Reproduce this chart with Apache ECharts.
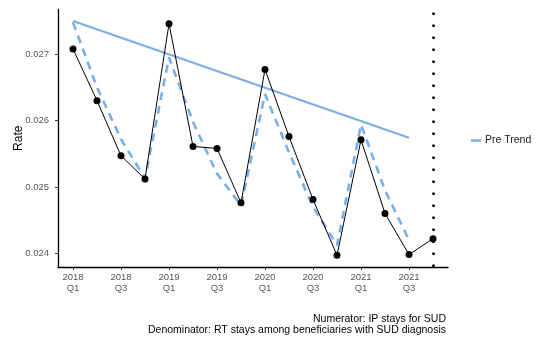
<!DOCTYPE html>
<html>
<head>
<meta charset="utf-8">
<script src="https://cdn.jsdelivr.net/npm/echarts@6/dist/echarts.min.js"></script>
<style>
  html, body { margin: 0; padding: 0; background: #ffffff; }
  #chart { width: 538px; height: 341px; }
</style>
</head>
<body>
<div id="chart"></div>
<script>
// Quarterly periods on the x axis
const quarters = [
  '2018 Q1', '2018 Q2', '2018 Q3', '2018 Q4',
  '2019 Q1', '2019 Q2', '2019 Q3', '2019 Q4',
  '2020 Q1', '2020 Q2', '2020 Q3', '2020 Q4',
  '2021 Q1', '2021 Q2', '2021 Q3', '2021 Q4'
];

// Observed rate per quarter
const observedRate = [
  0.02708, 0.02630, 0.02547, 0.02512,
  0.02746, 0.02561, 0.02558, 0.02476,
  0.02677, 0.02576, 0.02481, 0.02397,
  0.02571, 0.02460, 0.02398, 0.02422
];

// Seasonal pre-period fit (2018 Q1 - 2021 Q3)
const seasonalFit = [
  0.02748, 0.02650, 0.02572, 0.02513,
  0.02695, 0.02598, 0.02520, 0.02472,
  0.02640, 0.02552, 0.02470, 0.02412,
  0.02594, 0.02495, 0.02420
];

// Pre-period linear trend: start and end quarters and values
const preTrendQuarterIdx = [0, 14];
const preTrendValues = [0.02750, 0.02574];

// Intervention marker quarter
const interventionIdx = [15];

// Axis ticks
const yTicks = [0.024, 0.025, 0.026, 0.027];
const xTickIdx = [0, 2, 4, 6, 8, 10, 12, 14];

const caption = [
  'Numerator: IP stays for SUD',
  'Denominator: RT stays among beneficiaries with SUD diagnosis'
];

const FONT = 'Liberation Sans, Arial, sans-serif';
const BLUE = '#7aaee6';

const pairs = (vals, idx) => vals.map((v, i) => [idx ? idx[i] : i, v]);

const chart = echarts.init(document.getElementById('chart'), null, { renderer: 'canvas' });

chart.setOption({
  animation: false,
  backgroundColor: '#ffffff',
  grid: {
    left: 58, right: 90, top: 9.5, bottom: 74,
    containLabel: false,
    outerBoundsMode: 'none'
  },
  legend: {
    data: [{ name: 'Pre Trend', icon: 'rect' }],
    left: 471,
    top: 135,
    padding: 0,
    itemWidth: 10,
    itemHeight: 2.5,
    itemGap: 4,
    textStyle: { fontFamily: FONT, fontSize: 10.5, color: '#222222', padding: [0, 0, 0, -1] }
  },
  xAxis: {
    type: 'value',
    min: -0.625,
    max: 15.625,
    splitLine: { show: false },
    axisLine: { show: true, onZero: false, lineStyle: { color: '#000000', width: 1.3 } },
    axisTick: {
      show: true, length: 3, customValues: xTickIdx,
      lineStyle: { color: '#333333', width: 1 }
    },
    axisLabel: {
      customValues: xTickIdx,
      formatter: v => quarters[Math.round(v)].replace(' ', '\n'),
      fontFamily: FONT, fontSize: 9.5, color: '#555555',
      lineHeight: 11, margin: 5, align: 'center'
    }
  },
  yAxis: {
    type: 'value',
    min: 0.023793,
    max: 0.027674,
    name: 'Rate',
    nameLocation: 'middle',
    nameRotate: 90,
    nameGap: 33,
    nameMoveOverlap: false,
    nameTextStyle: { fontFamily: FONT, fontSize: 12, color: '#000000' },
    splitLine: { show: false },
    axisLine: { show: true, onZero: false, lineStyle: { color: '#000000', width: 1.3 } },
    axisTick: {
      show: true, length: 3, customValues: yTicks,
      lineStyle: { color: '#333333', width: 1 }
    },
    axisLabel: {
      customValues: yTicks,
      formatter: v => v.toFixed(3),
      fontFamily: FONT, fontSize: 9.5, color: '#555555', margin: 9
    }
  },
  series: [
    {
      name: 'Pre Trend',
      type: 'line',
      data: pairs(preTrendValues, preTrendQuarterIdx),
      symbol: 'none',
      color: BLUE,
      lineStyle: { color: BLUE, width: 2.2 },
      z: 2
    },
    {
      name: 'Seasonal Fit',
      type: 'line',
      data: pairs(seasonalFit),
      symbol: 'none',
      color: BLUE,
      lineStyle: { color: BLUE, width: 2.6, type: [8, 6] },
      z: 3
    },
    {
      name: 'Rate',
      type: 'line',
      data: pairs(observedRate),
      symbol: 'circle',
      symbolSize: 7,
      color: '#000000',
      itemStyle: { color: '#000000' },
      lineStyle: { color: '#000000', width: 1 },
      z: 4,
      markLine: {
        silent: true,
        symbol: ['none', 'none'],
        label: { show: false },
        lineStyle: { color: '#000000', width: 2.5, type: [2.5, 9.5] },
        data: interventionIdx.map(q => ({ xAxis: q }))
      }
    }
  ],
  graphic: caption.map((t, i) => ({
    type: 'text',
    right: 92,
    top: 314 + i * 11,
    style: { text: t, fontFamily: FONT, fontSize: 10.5, fill: '#000000' }
  }))
});
</script>
</body>
</html>
